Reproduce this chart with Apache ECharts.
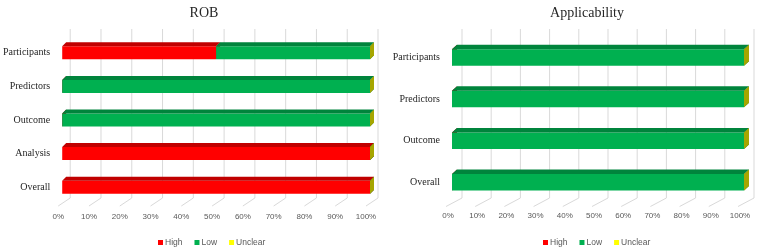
<!DOCTYPE html>
<html>
<head>
<meta charset="utf-8">
<script src="https://cdn.jsdelivr.net/npm/echarts@6/dist/echarts.min.js"></script>
<style>
html, body { margin: 0; padding: 0; background: #fff; }
#main { width: 757px; height: 247px; }
</style>
</head>
<body>
<div id="main"></div>
<script>
// data
var seriesNames = ['High', 'Low', 'Unclear'];
var robCategories = ['Participants', 'Predictors', 'Outcome', 'Analysis', 'Overall'];
var robHigh = [50, 0, 0, 100, 100];
var robLow = [50, 100, 100, 0, 0];
var robUnclear = [0, 0, 0, 0, 0];
var appCategories = ['Participants', 'Predictors', 'Outcome', 'Overall'];
var appHigh = [0, 0, 0, 0];
var appLow = [100, 100, 100, 100];
var appUnclear = [0, 0, 0, 0];
var tickValues = [0, 10, 20, 30, 40, 50, 60, 70, 80, 90, 100];

var colors = ['#FF0000', '#00B050', '#FFFF00'];
var topColors = ['#C00000', '#00843C', '#BFBF00'];
var sideColors = ['#B00000', '#007A36', '#A6A600'];

// 3d look per chart
var looks = [
	{ barH: 13, dx: 4, dy: 4, backX: 8, backTop: 29, backBottom: 198, floorX: -4, floorY: 206 },
	{ barH: 16.5, dx: 5, dy: 4.5, backX: 10, backTop: 29, backBottom: 198, floorX: -6, floorY: 206.5 }
];

var myChart = echarts.init(document.getElementById('main'));

function frameSeries(idx){
	var lk = looks[idx];
	return {
		type : 'custom',
		xAxisIndex : idx,
		yAxisIndex : idx,
		silent : true,
		z : 1,
		data : tickValues.map(function(t){ return [t]; }),
		renderItem : function(params, api){
			var x = api.coord([api.value(0), 0])[0];
			var st = { stroke : '#D9D9D9', lineWidth : 1 };
			return {
				type : 'group',
				children : [
					{ type : 'line', shape : { x1 : x + lk.backX, y1 : lk.backTop, x2 : x + lk.backX, y2 : lk.backBottom }, style : st },
					{ type : 'line', shape : { x1 : x + lk.floorX, y1 : lk.floorY, x2 : x + lk.backX, y2 : lk.backBottom }, style : st }
				]
			};
		}
	};
}

function barSeries(idx, k, values, prev){
	var lk = looks[idx];
	var data = values.map(function(v, i){
		var s = 0;
		prev.forEach(function(p){ s += p[i]; });
		return [i, s, s + v];
	});
	return {
		name : seriesNames[k],
		type : 'custom',
		xAxisIndex : idx,
		yAxisIndex : idx,
		z : 2,
		itemStyle : { color : colors[k] },
		data : data,
		renderItem : function(params, api){
			var cat = api.value(0);
			var p0 = api.coord([api.value(1), cat]);
			var p1 = api.coord([api.value(2), cat]);
			var h = lk.barH, dx = lk.dx, dy = lk.dy;
			var y0 = p0[1] - h / 2;
			var x0 = p0[0], x1 = p1[0];
			return {
				type : 'group',
				children : [
					{ type : 'rect', shape : { x : x0, y : y0, width : x1 - x0, height : h }, style : { fill : colors[k] } },
					{ type : 'polygon', shape : { points : [[x0, y0], [x0 + dx, y0 - dy], [x1 + dx, y0 - dy], [x1, y0]] }, style : { fill : topColors[k] } },
					{ type : 'polygon', shape : { points : [[x1, y0], [x1 + dx, y0 - dy], [x1 + dx, y0 + h - dy], [x1, y0 + h]] }, style : { fill : sideColors[k] } }
				]
			};
		}
	};
}

function xAxisOf(idx){
	return {
		gridIndex : idx,
		type : 'value',
		min : 0,
		max : 100,
		interval : 10,
		splitLine : { show : false },
		axisLine : { show : false },
		axisTick : { show : false },
		axisLabel : {
			formatter : '{value}%',
			color : '#595959',
			fontFamily : 'Liberation Sans',
			fontSize : 8,
			margin : 9,
			padding : [0, 8, 0, 0]
		}
	};
}

function yAxisOf(idx, cats){
	return {
		gridIndex : idx,
		type : 'category',
		inverse : true,
		data : cats,
		axisLine : { show : false },
		axisTick : { show : false },
		axisLabel : {
			color : '#262626',
			fontFamily : 'Liberation Serif',
			fontSize : 10,
			margin : 12,
			padding : [6, 0, 0, 0]
		}
	};
}

var legendBase = {
	data : seriesNames,
	icon : 'rect',
	itemWidth : 5,
	itemHeight : 5,
	itemGap : 12,
	top : 233,
	selectedMode : false,
	textStyle : { color : '#595959', fontFamily : 'Liberation Sans', fontSize : 8.5, padding : [0, 0, 0, -3] }
};

var option = {
	animation : false,
	backgroundColor : '#fff',
	title : [
		{ text : 'ROB', left : 199, top : 1, textAlign : 'center',
			textStyle : { fontFamily : 'Liberation Serif', fontWeight : 'normal', fontSize : 14, color : '#262626' } },
		{ text : 'Applicability', left : 582, top : 1, textAlign : 'center',
			textStyle : { fontFamily : 'Liberation Serif', fontWeight : 'normal', fontSize : 14, color : '#262626' } }
	],
	legend : [
		Object.assign({}, legendBase, { left : 153 }),
		Object.assign({}, legendBase, { left : 538 })
	],
	grid : [
		{ left : 62, width : 308, top : 36, height : 168 },
		{ left : 452, width : 292, top : 36.7, height : 166.4 }
	],
	xAxis : [ xAxisOf(0), xAxisOf(1) ],
	yAxis : [ yAxisOf(0, robCategories), yAxisOf(1, appCategories) ],
	series : [
		frameSeries(0),
		barSeries(0, 0, robHigh, []),
		barSeries(0, 1, robLow, [robHigh]),
		barSeries(0, 2, robUnclear, [robHigh, robLow]),
		frameSeries(1),
		barSeries(1, 0, appHigh, []),
		barSeries(1, 1, appLow, [appHigh]),
		barSeries(1, 2, appUnclear, [appHigh, appLow])
	]
};
myChart.setOption(option);
</script>
</body>
</html>
